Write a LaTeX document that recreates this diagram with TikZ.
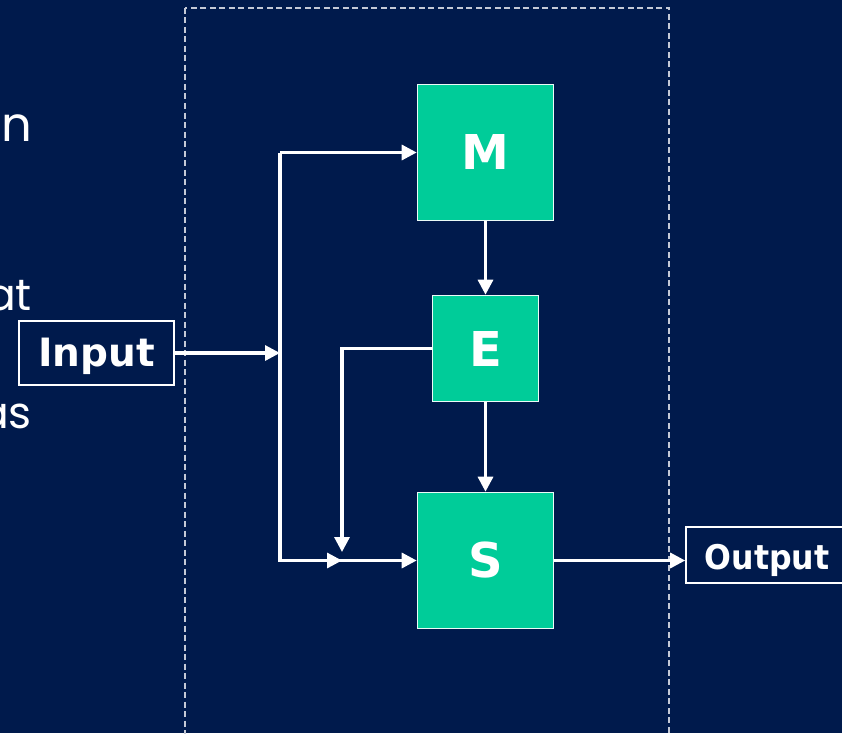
\documentclass[tikz,border=0pt]{standalone}
\usepackage{fontspec}
\usetikzlibrary{arrows.meta}
\newfontfamily\labelfont{DejaVu Sans}
\newfontfamily\gothic{Poppins}
\definecolor{navy}{HTML}{001A4C}
\definecolor{teal}{HTML}{00CC99}
\definecolor{framegray}{HTML}{C4C9D6}
\newcommand{\lowered}[2]{\raisebox{-#1}[\height][\depth]{#2}}
\begin{document}
\begin{tikzpicture}[x=1pt,y=-1pt,
  blk/.style={draw=white!92!teal, line width=1.6pt, fill=teal, text=white,
    font=\labelfont\bfseries\fontsize{48}{50}\selectfont, inner sep=0pt},
  iobox/.style={draw=white, line width=1.6pt, fill=navy, text=white, inner sep=0pt},
  wire/.style={draw=white, line width=3.2pt},
  arr/.style={wire, -{Triangle[length=15pt,width=15pt]}},
  slidetext/.style={text=white, inner sep=0pt, anchor=base east, font=\gothic},
]
\useasboundingbox (0,0) rectangle (842,733);
\clip (0,0) rectangle (842,733);
\fill[navy] (0,0) rectangle (842,733);

% text of the slide running behind the diagram
\node[slidetext, font=\gothic\fontsize{48}{50}\selectfont] (w1) at (32,141) {n};
\node[slidetext, font=\gothic\fontsize{44}{46}\selectfont] (w2) at (32,310) {at};
\node[slidetext, font=\gothic\fontsize{44}{46}\selectfont] (w3) at (32,428) {as};

% dashed frame around the processing blocks
\draw[framegray, line width=1.2pt, dash pattern=on 6pt off 3.5pt] (185,8) rectangle (669,760);

% blocks
\node[blk, minimum width=136pt, minimum height=136pt] (M) at (485.5,152.5) {M};
\node[blk, minimum width=106pt, minimum height=106pt] (E) at (485.5,348.5) {E};
\node[blk, minimum width=136pt, minimum height=136pt] (S) at (485.5,560.5) {S};

\node[iobox, minimum width=155pt, minimum height=64pt,
  font=\labelfont\bfseries\fontsize{39}{42}\selectfont] (In) at (96.5,353)
  {\lowered{3pt}{Input}};
\node[iobox, minimum width=162pt, minimum height=56pt,
  font=\labelfont\bfseries\fontsize{34}{36}\selectfont] (Out) at (767,555)
  {\lowered{5pt}{\scalebox{0.93}[1]{Output}}};

% junction points
\coordinate (J) at (280,353);
\coordinate (Jt) at (280,152.5);
\coordinate (Jb) at (280,560.5);
\coordinate (F) at (342,560.5);
\coordinate (Fd) at (342,552);

% connectors
\draw[arr] (In.east) -- (J);
\draw[wire, line join=miter] (M.west -| Jt) -- (Jb) -- (F);
\draw[arr] (Jt) -- (M.west);
\draw[arr] (Jb) -- (F);
\draw[arr] (F) -- (S.west);
\draw[arr] (E.west) -| (Fd);
\draw[arr] (M.south) -- (E.north);
\draw[arr] (E.south) -- (S.north);
\draw[arr] (S.east) -- (S.east -| Out.west);
\end{tikzpicture}
\end{document}
